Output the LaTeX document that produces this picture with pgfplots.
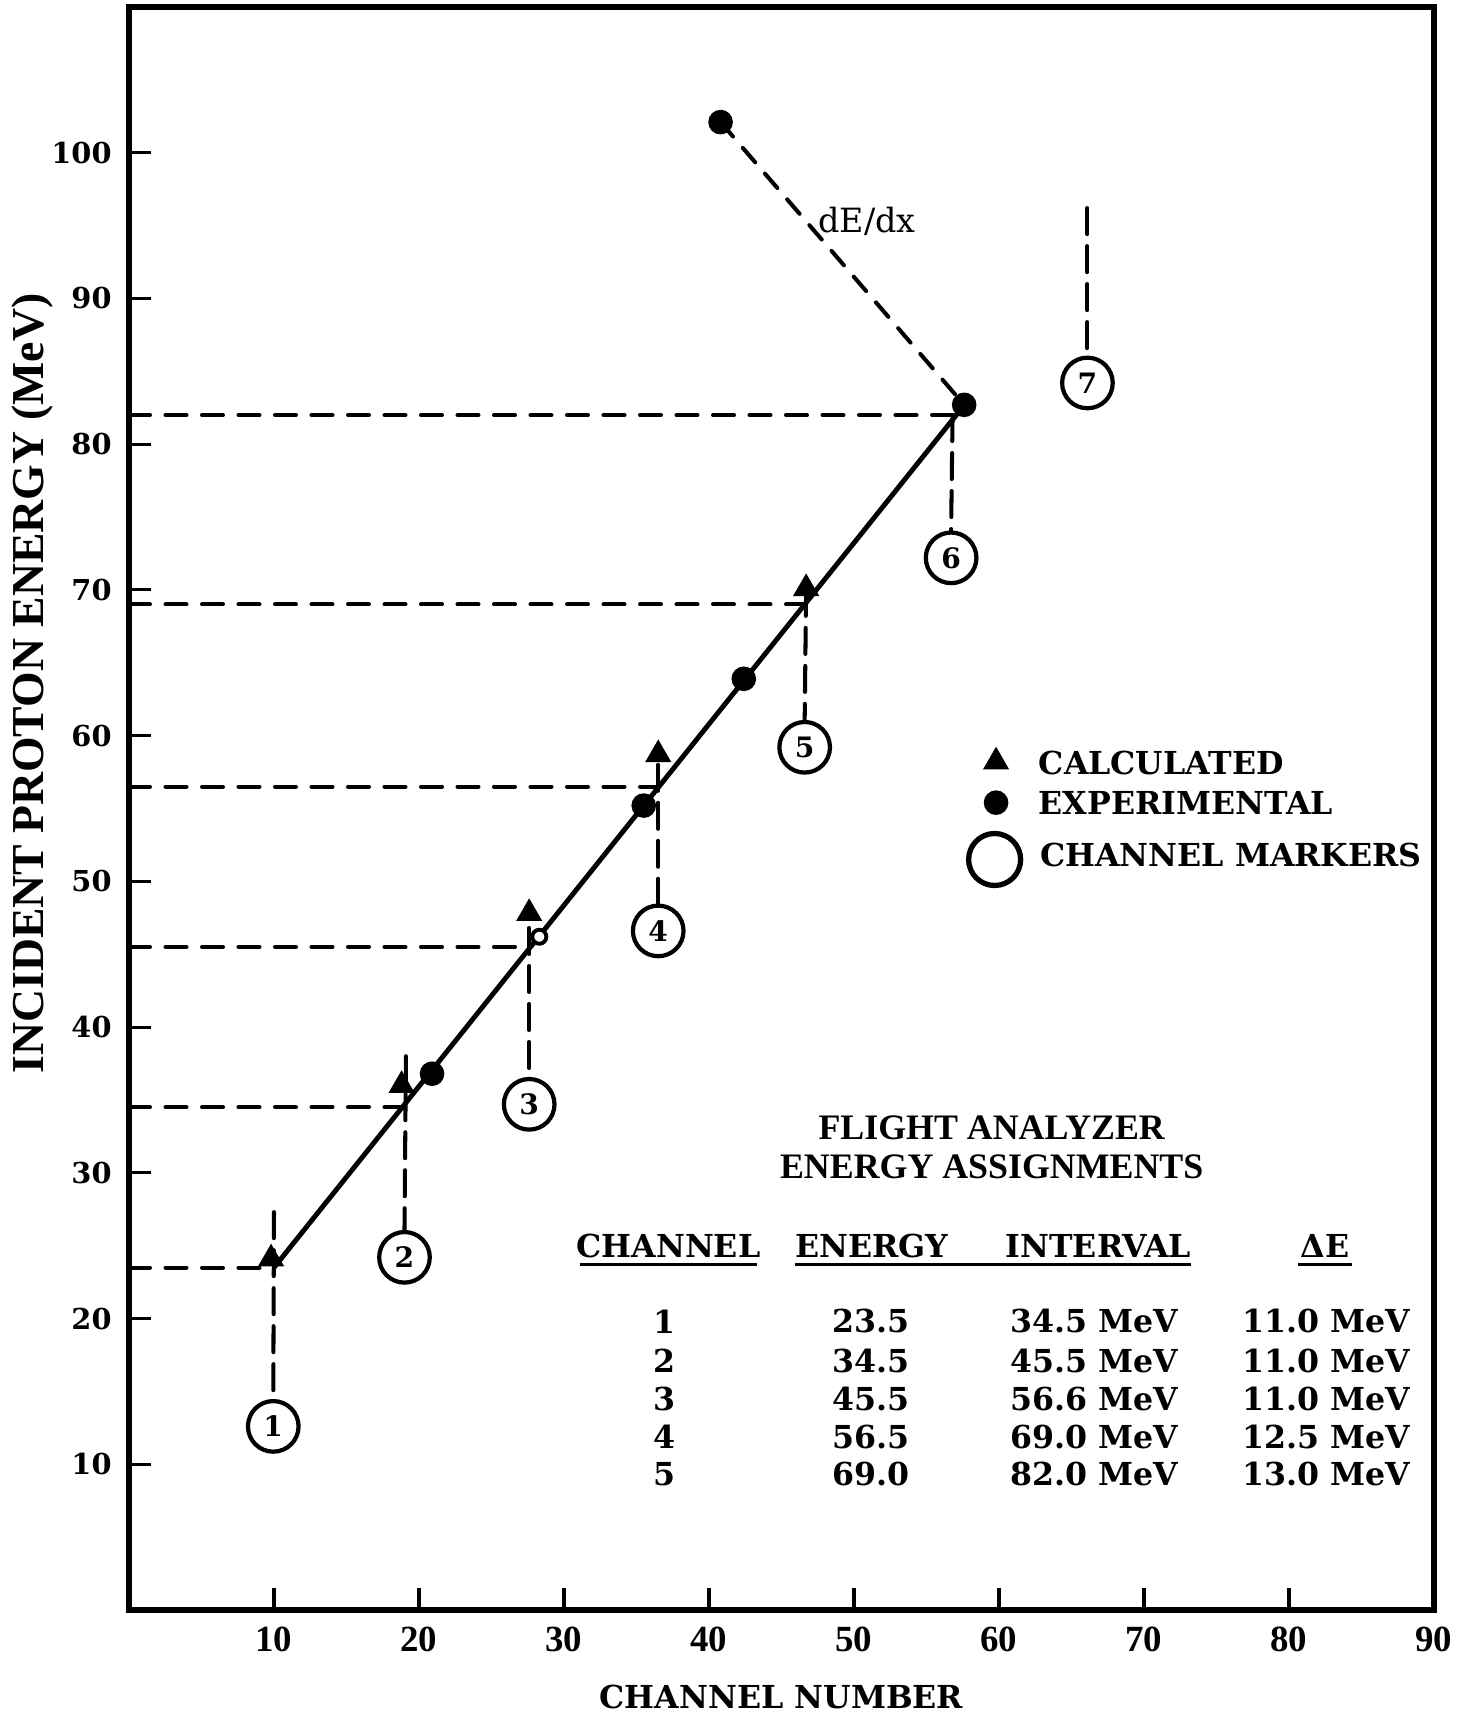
\documentclass[border=0pt]{standalone}
\usepackage{fontspec}
\setmainfont{DejaVu Serif}
\newfontfamily\libserif{Liberation Serif}
\usepackage{pgfplots}
\pgfplotsset{compat=1.18}
\newcommand\tabfont{\bfseries\fontsize{9}{11}\selectfont}
\newcommand\ul[2]{\makebox[#1]{#2}\llap{\rule[-2.4pt]{#1}{0.9pt}}}
\tikzset{
  hdash/.style={black, line width=1.15pt, line cap=round, dash pattern=on 2.1mm off 1.55mm},
  vdash/.style={black, line width=1.15pt, line cap=round, dash pattern=on 2.6mm off 1.2mm},
  ddash/.style={black, line width=1.15pt, line cap=round, dash pattern=on 1.9mm off 1.5mm},
}
\begin{document}
\begin{tikzpicture}
\begin{axis}[
  scale only axis, width=13.05cm, height=16.03cm,
  xmin=0, xmax=90, ymin=0, ymax=110,
  axis line style={line width=1.5pt},
  xtick={10,20,...,90}, ytick={10,20,...,100},
  xtick pos=bottom, ytick pos=left, tick align=inside,
  major tick length=2.2mm,
  major tick style={line width=0.9pt, black},
  /pgf/number format/assume math mode=true,
  xticklabel style={font=\libserif\bfseries\fontsize{10.5}{12}\selectfont, yshift=-0.5mm},
  yticklabel style={font=\bfseries\fontsize{8.2}{9}\selectfont, xshift=-0.5mm},
  xlabel={CHANNEL NUMBER},
  xlabel style={font=\bfseries\fontsize{9}{10}\selectfont, at={(axis description cs:0.5,-0.054)}, anchor=center},
  ylabel={INCIDENT PROTON ENERGY (MeV)},
  ylabel style={font=\libserif\bfseries\fontsize{13}{15}\selectfont, at={(axis description cs:-0.0736,0.578)}, anchor=center},
  clip=false,
]
% horizontal dashed energy levels
\addplot[hdash] coordinates {(0,82) (56.9,82)};
\addplot[hdash] coordinates {(0,69) (46.5,69)};
\addplot[hdash] coordinates {(0,56.5) (36.3,56.5)};
\addplot[hdash] coordinates {(0,45.5) (27.7,45.5)};
\addplot[hdash] coordinates {(0,34.5) (19.0,34.5)};
\addplot[hdash] coordinates {(0,23.5) (9.8,23.5)};
% vertical dashed channel lines
\addplot[vdash] coordinates {(10.0,27.3) (9.95,14.5)};
\addplot[vdash] coordinates {(19.1,38.0) (19.0,26.1)};
\addplot[vdash] coordinates {(27.6,46.8) (27.6,36.6)};
\addplot[vdash] coordinates {(36.5,58.0) (36.5,48.5)};
\addplot[vdash] coordinates {(46.7,70.0) (46.6,61.1)};
\addplot[vdash] coordinates {(56.8,82.0) (56.7,74.1)};
\addplot[vdash] coordinates {(66.1,96.2) (66.1,86.1)};
% dE/dx
\addplot[ddash] coordinates {(40.8,102.1) (57.6,82.7)};
% calibration line
\addplot[black, line width=1.4pt] coordinates {(10.0,23.5) (57.3,82.3)};
% calculated
\addplot[only marks, mark=triangle*, mark size=3.9pt, black] coordinates {
(9.8,24.1) (18.8,36.0) (27.6,47.8) (36.5,58.7) (46.7,70.1)};
% experimental
\addplot[only marks, mark=*, mark size=3.3pt, black] coordinates {
(20.9,36.8) (35.5,55.2) (42.4,63.9) (57.6,82.7) (40.8,102.1)};
\addplot[only marks, mark=*, mark size=2.0pt, mark options={fill=white, draw=black, line width=1.1pt}] coordinates {(28.3,46.2)};
% channel markers
\addplot[only marks, mark=*, mark size=7.2pt, mark options={fill=white, draw=black, line width=1.2pt},
  nodes near coords, point meta=explicit symbolic,
  every node near coord/.append style={anchor=center, inner sep=0pt, font=\bfseries\fontsize{8}{9}\selectfont}]
  coordinates {(9.95,12.6)[1] (19.0,24.2)[2] (27.6,34.7)[3] (36.5,46.6)[4] (46.6,59.2)[5] (56.7,72.2)[6] (66.1,84.2)[7]};
\node[anchor=west, inner sep=0pt, font=\fontsize{9.5}{11}\selectfont] at (axis cs:47.5,95.3) {dE/dx};
% legend
\addplot[only marks, mark=triangle*, mark size=3.9pt, black] coordinates {(59.8,58.2)};
\addplot[only marks, mark=*, mark size=3.3pt, black] coordinates {(59.8,55.4)};
\addplot[only marks, mark=*, mark size=7.4pt, mark options={fill=white, draw=black, line width=1.5pt}] coordinates {(59.7,51.5)};
\node[anchor=west, inner sep=0pt, font=\tabfont] at (axis cs:62.7,58.1) {CALCULATED};
\node[anchor=west, inner sep=0pt, font=\tabfont] at (axis cs:62.7,55.4) {EXPERIMENTAL};
\node[anchor=west, inner sep=0pt, font=\tabfont] at (axis cs:62.8,51.8) {CHANNEL MARKERS};
% table
\node[anchor=center, font=\libserif\bfseries\fontsize{10.2}{12}\selectfont] at (axis cs:59.5,33.1) {FLIGHT ANALYZER};
\node[anchor=center, font=\libserif\bfseries\fontsize{10.2}{12}\selectfont] at (axis cs:59.5,30.4) {ENERGY ASSIGNMENTS};
\node[anchor=base, inner sep=0pt, font=\tabfont] at (axis cs:37.2,24.2) {\ul{17.7mm}{CHANNEL}};
\node[anchor=base, inner sep=0pt, font=\tabfont] at (axis cs:59.6,24.2) {\ul{39.6mm}{ENERGY\hfill INTERVAL}};
\node[anchor=base, inner sep=0pt, font=\tabfont] at (axis cs:82.5,24.2) {\ul{5.4mm}{ΔE}};
\node[anchor=center, inner sep=0pt, font=\tabfont] at (axis cs:36.9,19.8) {1};
\node[anchor=center, inner sep=0pt, font=\tabfont] at (axis cs:36.9,17.1) {2};
\node[anchor=center, inner sep=0pt, font=\tabfont] at (axis cs:36.9,14.5) {3};
\node[anchor=center, inner sep=0pt, font=\tabfont] at (axis cs:36.9,11.9) {4};
\node[anchor=center, inner sep=0pt, font=\tabfont] at (axis cs:36.9,9.3) {5};
\node[anchor=center, inner sep=0pt, font=\tabfont] at (axis cs:51.2,19.8) {23.5};
\node[anchor=center, inner sep=0pt, font=\tabfont] at (axis cs:51.2,17.1) {34.5};
\node[anchor=center, inner sep=0pt, font=\tabfont] at (axis cs:51.2,14.5) {45.5};
\node[anchor=center, inner sep=0pt, font=\tabfont] at (axis cs:51.2,11.9) {56.5};
\node[anchor=center, inner sep=0pt, font=\tabfont] at (axis cs:51.2,9.3) {69.0};
\node[anchor=center, inner sep=0pt, font=\tabfont] at (axis cs:66.55,19.8) {34.5 MeV};
\node[anchor=center, inner sep=0pt, font=\tabfont] at (axis cs:66.55,17.1) {45.5 MeV};
\node[anchor=center, inner sep=0pt, font=\tabfont] at (axis cs:66.55,14.5) {56.6 MeV};
\node[anchor=center, inner sep=0pt, font=\tabfont] at (axis cs:66.55,11.9) {69.0 MeV};
\node[anchor=center, inner sep=0pt, font=\tabfont] at (axis cs:66.55,9.3) {82.0 MeV};
\node[anchor=center, inner sep=0pt, font=\tabfont] at (axis cs:82.6,19.8) {11.0 MeV};
\node[anchor=center, inner sep=0pt, font=\tabfont] at (axis cs:82.6,17.1) {11.0 MeV};
\node[anchor=center, inner sep=0pt, font=\tabfont] at (axis cs:82.6,14.5) {11.0 MeV};
\node[anchor=center, inner sep=0pt, font=\tabfont] at (axis cs:82.6,11.9) {12.5 MeV};
\node[anchor=center, inner sep=0pt, font=\tabfont] at (axis cs:82.6,9.3) {13.0 MeV};
\end{axis}
\pgfresetboundingbox
\path[use as bounding box] ([xshift=-1.29cm,yshift=-1.04cm]current axis.south west) rectangle ([xshift=0.25cm,yshift=0.07cm]current axis.north east);
\end{tikzpicture}
\end{document}
